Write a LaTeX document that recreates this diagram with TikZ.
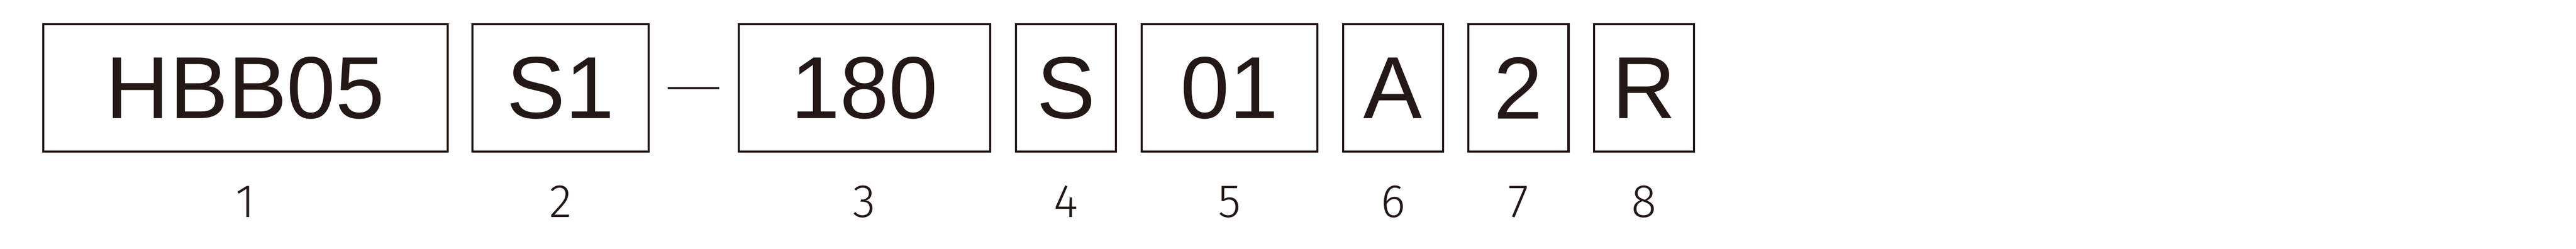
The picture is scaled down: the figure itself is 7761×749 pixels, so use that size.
\documentclass[tikz,border=0pt]{standalone}
\usepackage{fontspec}
\setmainfont{Liberation Sans}
\newfontfamily\numfont{Fira Sans}[UprightFont=* Light]
\definecolor{inkblack}{RGB}{35,24,21}
\tikzset{every picture/.style={line width=0.65pt}}
\tikzset{
  codebox/.style={draw=inkblack, text=inkblack, inner sep=0pt, minimum height=38.35pt, font=\fontsize{26.5}{30}\selectfont},
  posnum/.style={text=inkblack, inner sep=0pt, anchor=base, font=\numfont\fontsize{14.1}{16}\selectfont},
  joinbar/.style={draw=inkblack, line width=0.65pt}
}
\begin{document}
\begin{tikzpicture}[x=0.1pt,y=0.1pt,yscale=-1,xscale=1]
\useasboundingbox (0,0) rectangle (7761,749);

%Shape: Rectangle [code boxes]
\node[codebox, minimum width=121.85pt] (b1) at (739.5,265) {HBB05};
\node[codebox, minimum width=53.15pt] (b2) at (1689,265) {S1};
\node[codebox, minimum width=75.75pt] (b3) at (2604,265) {180};
\node[codebox, minimum width=30.05pt] (b4) at (3211.5,265) {S};
\node[codebox, minimum width=52.85pt] (b5) at (3704.5,265) {01};
\node[codebox, minimum width=30.15pt] (b6) at (4197,265) {A};
\node[codebox, minimum width=30.25pt] (b7) at (4574.5,265) {2};
\node[codebox, minimum width=30.15pt] (b8) at (4953,265) {R};

%Straight Lines [dash between 2 and 3]
\draw[joinbar] ([xshift=5.3pt]b2.east) -- ([xshift=-5.5pt]b3.west);

%Text [position numbers]
\node[posnum] (n1) at ([yshift=19.5pt]b1.south) {1};
\node[posnum] (n2) at ([yshift=19.5pt]b2.south) {2};
\node[posnum] (n3) at ([yshift=19.5pt]b3.south) {3};
\node[posnum] (n4) at ([yshift=19.5pt]b4.south) {4};
\node[posnum] (n5) at ([yshift=19.5pt]b5.south) {5};
\node[posnum] (n6) at ([yshift=19.5pt]b6.south) {6};
\node[posnum] (n7) at ([yshift=19.5pt]b7.south) {7};
\node[posnum] (n8) at ([yshift=19.5pt]b8.south) {8};

\end{tikzpicture}
\end{document}
